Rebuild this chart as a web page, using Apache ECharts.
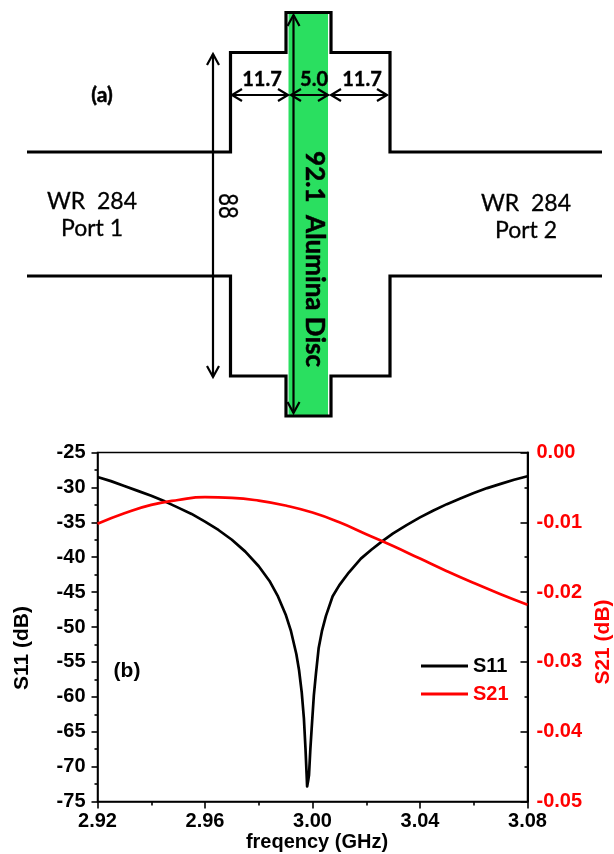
<!DOCTYPE html>
<html><head><meta charset="utf-8">
<style>html,body{margin:0;padding:0;background:#fff;overflow:hidden}#c{width:614px;height:854px}</style>
<script src="https://cdn.jsdelivr.net/npm/echarts@6/dist/echarts.min.js"></script>
</head><body><div id="c"></div>
<script>
const freqS11 = [2.92,2.925,2.93,2.935,2.94,2.945,2.95,2.955,2.96,2.965,2.97,2.975,2.98,2.984,2.987,2.99,2.992,2.994,2.995,2.996,2.9968,2.9974,2.9978,2.998,2.9984,2.9987,2.9992,2.9997,3.0005,3.0013,3.0023,3.0035,3.005,3.0075,3.01,3.0135,3.018,3.022,3.026,3.03,3.035,3.04,3.045,3.05,3.055,3.06,3.065,3.07,3.075,3.08];
const s11 = [-28.5,-29.1,-29.8,-30.5,-31.2,-32,-32.9,-33.8,-34.9,-36.1,-37.5,-39.2,-41.3,-43.4,-45.5,-48.2,-50.6,-53.9,-56.2,-59.4,-63.1,-67.5,-71,-72.85,-72,-71.2,-67.5,-64.5,-59.8,-56.6,-53,-50.6,-48.4,-45.6,-44,-42.2,-40.2,-38.9,-37.7,-36.6,-35.4,-34.3,-33.3,-32.4,-31.6,-30.8,-30.1,-29.5,-28.9,-28.4];
const freqS21 = [2.92,2.93,2.94,2.95,2.96,2.97,2.98,2.99,3.0,3.01,3.02,3.03,3.04,3.05,3.06,3.07,3.08];
const s21 = [-0.0102,-0.0087,-0.0075,-0.0068,-0.0064,-0.0065,-0.0069,-0.0076,-0.0086,-0.01,-0.0117,-0.0134,-0.0152,-0.017,-0.0187,-0.0203,-0.0218];

const F='"Liberation Sans",Arial,sans-serif', C='Lato,"Open Sans",sans-serif';
const red='#f00';
const L=(x1,y1,x2,y2,w=2.2)=>({type:'line',shape:{x1,y1,x2,y2},style:{stroke:'#000',lineWidth:w}});
const P=(pts,w=2.2)=>({type:'polyline',shape:{points:pts},style:{stroke:'#000',lineWidth:w,fill:null}});
const T=(x,y,text,size,o={})=>({type:'text',x,y,rotation:o.rot||0,scaleY:o.sy||1,scaleX:o.sx||1,
  style:{text,fontFamily:o.f||C,fontSize:size,fontWeight:o.w||'normal',fill:'#000',align:'center',verticalAlign:'middle',lineHeight:o.lh||size+4,stroke:o.st?'#000':null,lineWidth:o.st||0}});
const R=-Math.PI/2;
const graphic=[
{type:'rect',shape:{x:288.5,y:14,width:39.5,height:401},style:{fill:'#2adf60'}},
P([[27,152],[230.5,152],[230.5,52.5],[286,52.5],[286,12.5],[331,12.5],[331,52.5],[390,52.5],[390,152],[602,152]],3.2),
P([[27,276],[230.5,276],[230.5,376],[286,376],[286,416],[331,416],[331,376],[390,376],[390,276],[602,276]],3.2),
L(213,54,213,377),P([[207,65],[213,54],[219,65]]),P([[207,366],[213,377],[219,366]]),
L(293.5,15,293.5,413),P([[287.5,26],[293.5,15],[299.5,26]]),P([[287.5,402],[293.5,413],[299.5,402]]),
L(232,95,288,95),P([[242,89],[232,95],[242,101]]),P([[278,89],[288,95],[278,101]]),
L(291,95,328,95),P([[301,89],[291,95],[301,101]]),P([[318,89],[328,95],[318,101]]),
L(331,95,387,95),P([[341,89],[331,95],[341,101]]),P([[377,89],[387,95],[377,101]]),
T(262,80,'11.7',20,{w:'bold',st:0.4}),T(314,80,'5.0',20,{w:'bold',st:0.4}),T(362,80,'11.7',20,{w:'bold',st:0.4}),
T(102,95,'(a)',21,{w:'bold',st:0.5}),
T(92,215.5,'WR  284\nPort 1',23,{lh:27,st:0.3}),T(526,217.5,'WR  284\nPort 2',23,{lh:27,st:0.3}),
T(228,206,'88',22,{rot:R,sy:1.25,st:0.3}),
T(315,259,'92.1  Alumina Disc',26,{rot:R,w:'bold',sy:1.05,st:0.5}),
T(127,671,'(b)',21,{w:'bold',f:F})
];
const axisText={fontFamily:F,fontSize:20,fontWeight:'bold',color:'#000'};
const axStyle={color:'#000',width:1.6};
const chart=echarts.init(document.getElementById('c'),null,{renderer:'canvas'});
chart.setOption({
 animation:false,backgroundColor:'#fff',
 grid:{left:97.5,right:86.5,top:452.5,bottom:52.5,show:true,borderColor:'#000',borderWidth:1.5,backgroundColor:'transparent',outerBoundsMode:'none'},
 xAxis:{type:'value',min:2.92,max:3.08,interval:0.04,
  name:'freqency (GHz)',nameLocation:'middle',nameGap:30,nameTextStyle:{fontFamily:F,fontSize:20,fontWeight:'bold',color:'#000',padding:[0,0,0,9]},
  axisLine:{onZero:false,lineStyle:axStyle},axisTick:{show:true,length:7,lineStyle:axStyle},
  minorTick:{show:true,splitNumber:2,length:4,lineStyle:axStyle},splitLine:{show:false},minorSplitLine:{show:false},
  axisLabel:{...axisText,margin:10,formatter:v=>v.toFixed(2),hideOverlap:false,showMinLabel:true,showMaxLabel:true}},
 yAxis:[{type:'value',min:-75,max:-25,interval:5,name:'S11 (dB)',nameLocation:'middle',nameGap:65,nameRotate:90,
   nameTextStyle:{fontFamily:F,fontSize:21,fontWeight:'bold',color:'#000',padding:[0,42,0,0]},
   axisLine:{onZero:false,lineStyle:axStyle},axisTick:{length:6,lineStyle:axStyle},
   minorTick:{show:true,splitNumber:2,length:3,lineStyle:axStyle},splitLine:{show:false},
   axisLabel:{...axisText,margin:12,showMinLabel:true,showMaxLabel:true}},
  {type:'value',min:-0.05,max:0,interval:0.01,position:'right',name:'S21 (dB)',nameLocation:'middle',nameGap:60,nameRotate:90,
   nameTextStyle:{fontFamily:F,fontSize:21,fontWeight:'bold',color:red,padding:[0,30,0,0]},
   axisLine:{onZero:false,lineStyle:{color:'#000',width:2}},axisTick:{inside:true,length:7,lineStyle:axStyle},
   minorTick:{show:true,splitNumber:2,length:3,lineStyle:axStyle},splitLine:{show:false},
   axisLabel:{fontFamily:F,fontSize:20,fontWeight:'bold',color:red,margin:9,formatter:v=>v.toFixed(2),showMinLabel:true,showMaxLabel:true}}],
 legend:{show:true,left:421,top:656,padding:0,orient:'vertical',icon:'rect',itemWidth:47,itemHeight:3,itemGap:8,
  data:[{name:'S11',textStyle:{color:'#000'}},{name:'S21',textStyle:{color:red}}],
  textStyle:{fontFamily:F,fontSize:20,fontWeight:'bold'}},
 series:[
  {name:'S11',type:'line',yAxisIndex:0,symbol:'none',smooth:false,data:freqS11.map((f,i)=>[f,s11[i]]),lineStyle:{color:'#000',width:2.7,join:'round'},itemStyle:{color:'#000'},z:3},
  {name:'S21',type:'line',yAxisIndex:1,symbol:'none',smooth:0.5,data:freqS21.map((f,i)=>[f,s21[i]]),lineStyle:{color:red,width:2.7},itemStyle:{color:red},z:4}
 ],
 graphic
});
</script></body></html>
